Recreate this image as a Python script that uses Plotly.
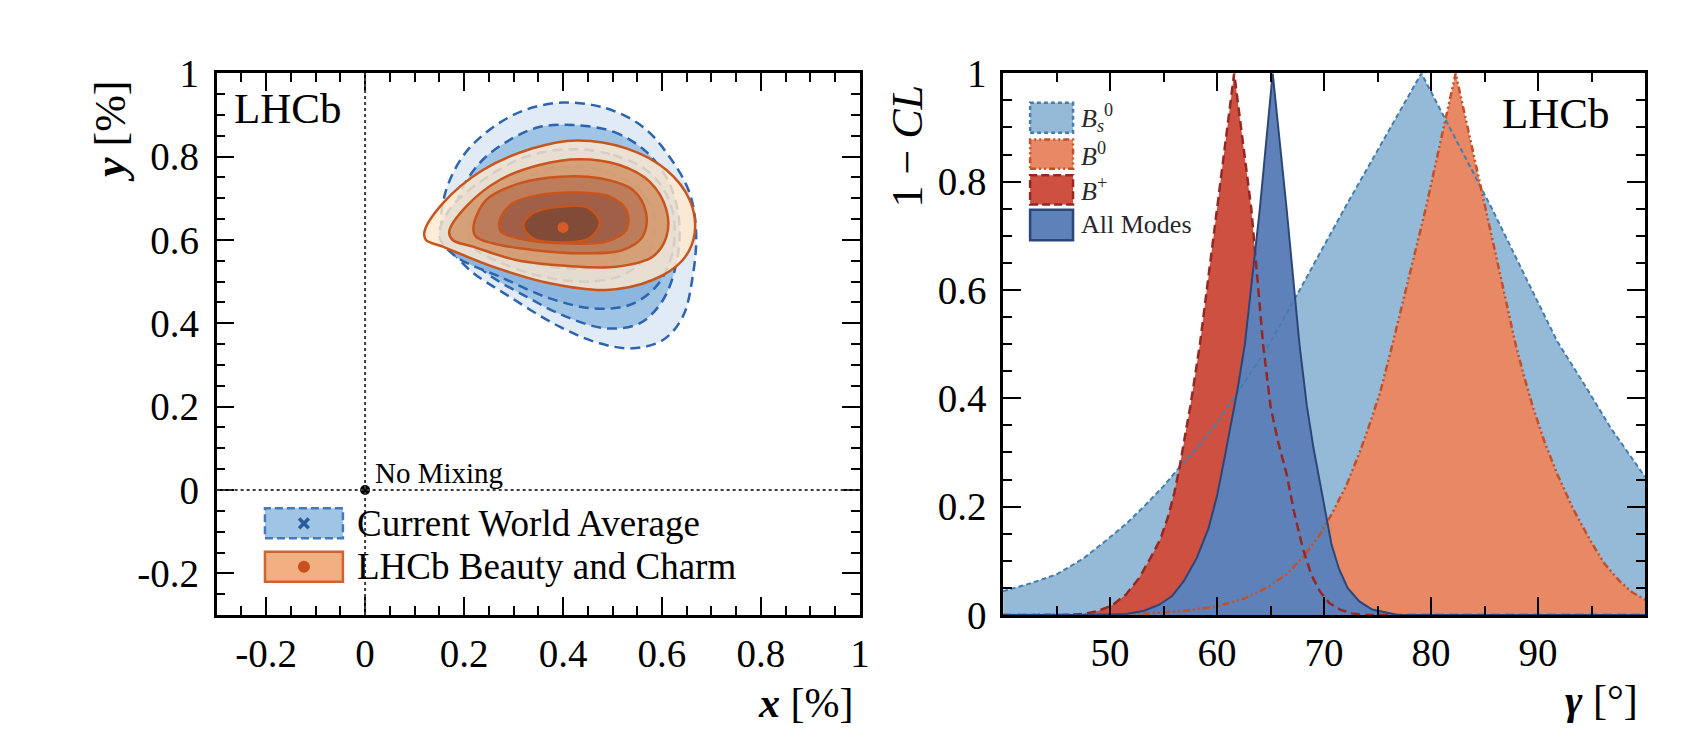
import plotly.graph_objects as go
from plotly.subplots import make_subplots

# ---- left panel: charm mixing contours (x, y in %) ----
wa1_x = [0.400, 0.487, 0.561, 0.615, 0.656, 0.669, 0.662, 0.642, 0.602, 0.541, 0.474, 0.393, 0.292, 0.204, 0.157, 0.160, 0.197, 0.251, 0.319]
wa1_y = [0.930, 0.916, 0.872, 0.800, 0.712, 0.616, 0.512, 0.416, 0.360, 0.340, 0.352, 0.392, 0.464, 0.536, 0.616, 0.704, 0.800, 0.864, 0.910]
wa2_x = [0.420, 0.501, 0.568, 0.615, 0.635, 0.629, 0.602, 0.555, 0.487, 0.406, 0.326, 0.238, 0.184, 0.187, 0.231, 0.292, 0.352]
wa2_y = [0.876, 0.860, 0.812, 0.736, 0.640, 0.544, 0.456, 0.400, 0.388, 0.416, 0.464, 0.528, 0.608, 0.696, 0.784, 0.840, 0.871]
wa3_x = [0.420, 0.501, 0.568, 0.608, 0.625, 0.619, 0.588, 0.534, 0.460, 0.373, 0.272, 0.184, 0.150, 0.170, 0.238, 0.326]
wa3_y = [0.818, 0.804, 0.768, 0.712, 0.640, 0.560, 0.488, 0.444, 0.436, 0.460, 0.512, 0.560, 0.608, 0.672, 0.744, 0.800]
wa4_x = [0.413, 0.487, 0.548, 0.581, 0.585, 0.568, 0.521, 0.447, 0.359, 0.278, 0.218, 0.211, 0.245, 0.312, 0.366]
wa4_y = [0.776, 0.764, 0.728, 0.672, 0.616, 0.560, 0.516, 0.500, 0.512, 0.544, 0.584, 0.632, 0.688, 0.744, 0.768]
wa5_x = [0.413, 0.480, 0.528, 0.541, 0.528, 0.480, 0.406, 0.332, 0.278, 0.272, 0.298, 0.352]
wa5_y = [0.728, 0.716, 0.672, 0.632, 0.576, 0.540, 0.532, 0.548, 0.584, 0.632, 0.688, 0.720]

lb1_x = [0.120, 0.157, 0.238, 0.339, 0.427, 0.528, 0.609, 0.656, 0.666, 0.642, 0.581, 0.487, 0.373, 0.258, 0.157, 0.123]
lb1_y = [0.620, 0.688, 0.768, 0.820, 0.839, 0.820, 0.768, 0.696, 0.616, 0.552, 0.504, 0.480, 0.496, 0.536, 0.584, 0.600]
lb2_x = [0.170, 0.204, 0.272, 0.352, 0.433, 0.514, 0.575, 0.609, 0.609, 0.581, 0.507, 0.406, 0.305, 0.218, 0.177]
lb2_y = [0.620, 0.680, 0.744, 0.780, 0.794, 0.780, 0.740, 0.672, 0.608, 0.560, 0.536, 0.538, 0.552, 0.584, 0.600]
lb3_x = [0.219, 0.245, 0.312, 0.393, 0.474, 0.541, 0.568, 0.561, 0.521, 0.440, 0.339, 0.258, 0.224]
lb3_y = [0.632, 0.696, 0.736, 0.752, 0.748, 0.720, 0.664, 0.608, 0.576, 0.568, 0.576, 0.592, 0.608]
lb4_x = [0.272, 0.298, 0.352, 0.427, 0.494, 0.528, 0.528, 0.487, 0.406, 0.326, 0.275]
lb4_y = [0.648, 0.688, 0.708, 0.714, 0.704, 0.672, 0.624, 0.596, 0.592, 0.600, 0.620]
lb5_x = [0.320, 0.339, 0.393, 0.453, 0.474, 0.453, 0.393, 0.339]
lb5_y = [0.634, 0.664, 0.680, 0.676, 0.640, 0.604, 0.594, 0.604]

lhcb_best = (0.40, 0.63)
no_mixing = (0.0, 0.0)
xy_ticks = [-0.2, 0, 0.2, 0.4, 0.6, 0.8, 1]
xy_labels = ["-0.2", "0", "0.2", "0.4", "0.6", "0.8", "1"]
g_ticks = [50, 60, 70, 80, 90]

# ---- right panel: 1-CL scans in gamma ----
bs_g = [40, 42.5, 45, 47.4, 49.6, 51.6, 53.4, 55, 56.5, 58, 60, 61.9, 64.6, 68, 71.9, 75.5, 79.1,
        82, 85.7, 88.8, 91.8, 94.5, 96.8, 100]
bs_cl = [0.044, 0.058, 0.075, 0.103, 0.137, 0.17, 0.205, 0.238, 0.273, 0.305, 0.355, 0.41, 0.49, 0.61, 0.75, 0.875, 1.0,
         0.89, 0.75, 0.625, 0.505, 0.42, 0.345, 0.255]
b0_g = [40, 49.6, 52, 54.6, 57.5, 60.0, 62.5, 64.6, 66.5, 68.0, 69.5, 70.7, 72.1, 73.4, 74.4, 75.3, 76.4, 79.5, 82.3,
        85.1, 87.9, 88.7, 89.5, 90.6, 91.8, 93.3, 94.9, 96.2, 97.6, 98.8, 100]
b0_cl = [0.0, 0.0, 0.001, 0.004, 0.009, 0.016, 0.03, 0.05, 0.075, 0.106, 0.145, 0.186, 0.24, 0.304, 0.36, 0.415, 0.50, 0.75, 1.0,
         0.75, 0.50, 0.44, 0.385, 0.32, 0.26, 0.195, 0.137, 0.095, 0.063, 0.042, 0.028]
bp_g = [40, 45.8, 47.5, 48.8, 50.2, 51.5, 52.7, 53.8, 54.7, 55.4, 56.0, 56.5, 57.0, 57.5, 58.4, 60.0, 61.6,
        63.2, 64.3, 65.0, 65.7, 66.5, 67.2, 68.0, 68.8, 69.6, 70.5, 71.5, 72.6, 73.8, 100]
bp_cl = [0.0, 0.0, 0.002, 0.007, 0.018, 0.038, 0.068, 0.106, 0.14, 0.18, 0.225, 0.273, 0.33, 0.385, 0.50, 0.75, 1.0,
         0.75, 0.50, 0.385, 0.32, 0.26, 0.19, 0.124, 0.075, 0.044, 0.022, 0.01, 0.003, 0.0, 0.0]
all_g = [40, 48, 51.5, 53.2, 54.6, 55.8, 56.9, 58.1, 59.2, 60.0, 60.7, 61.3, 61.9, 62.6, 64.0, 65.2,
         66.5, 67.7, 68.4, 69.0, 69.6, 70.2, 70.7, 71.4, 72.2, 73.3, 74.5, 76.9, 100]
all_cl = [0.0, 0.0, 0.002, 0.008, 0.019, 0.035, 0.063, 0.105, 0.16, 0.22, 0.29, 0.35, 0.415, 0.50, 0.75, 1.0,
          0.75, 0.50, 0.385, 0.31, 0.248, 0.185, 0.13, 0.085, 0.05, 0.025, 0.01, 0.0, 0.0]

FONT = "Liberation Serif"

fig = make_subplots(rows=1, cols=2)

# world average (blue, dashed)
blue_line = "rgb(45,100,175)"
wa = [(wa1_x, wa1_y, "rgb(224,235,246)"), (wa2_x, wa2_y, "rgb(160,196,228)"),
      (wa3_x, wa3_y, "rgb(140,182,222)"), (wa4_x, wa4_y, "rgb(122,168,214)"),
      (wa5_x, wa5_y, "rgb(104,154,205)")]
for cx, cy, col in wa:
    fig.add_trace(go.Scatter(x=cx + cx[:1], y=cy + cy[:1], mode="lines", fill="toself",
                             fillcolor=col, line=dict(color=blue_line, width=2.5, dash="10px,6px", shape="spline", smoothing=1)),
                  row=1, col=1)

# LHCb beauty and charm (orange, solid)
orange_line = "rgb(200,85,30)"
lb = [(lb1_x, lb1_y, "rgba(255,232,205,0.8)"), (lb2_x, lb2_y, "rgba(209,144,98,0.8)"),
      (lb3_x, lb3_y, "rgba(184,116,82,0.8)"), (lb4_x, lb4_y, "rgba(152,87,65,0.8)"),
      (lb5_x, lb5_y, "rgba(122,70,51,0.8)")]
for cx, cy, col in lb:
    fig.add_trace(go.Scatter(x=cx + cx[:1], y=cy + cy[:1], mode="lines", fill="toself",
                             fillcolor=col, line=dict(color=orange_line, width=2.5, shape="spline", smoothing=1)),
                  row=1, col=1)

fig.add_trace(go.Scatter(x=[lhcb_best[0]], y=[lhcb_best[1]], mode="markers",
                         marker=dict(color="rgb(215,90,40)", size=11)), row=1, col=1)
fig.add_trace(go.Scatter(x=[no_mixing[0]], y=[no_mixing[1]], mode="markers",
                         marker=dict(color="black", size=10)), row=1, col=1)

# reference lines through no mixing
fig.add_shape(type="line", xref="x", yref="y domain", x0=0, x1=0, y0=0, y1=1,
              line=dict(color="rgb(60,60,60)", width=2, dash="dot"))
fig.add_shape(type="line", xref="x domain", yref="y", x0=0, x1=1, y0=0, y1=0,
              line=dict(color="rgb(60,60,60)", width=2, dash="dot"))

# right panel fills, then all edges on top
scans = [
    (bs_g, bs_cl, "rgb(148,186,216)", "rgb(70,125,175)", 2, "5px,3px"),
    (b0_g, b0_cl, "rgb(232,136,100)", "rgb(195,80,40)", 2.5, "7px,3px,2px,3px,2px,3px"),
    (bp_g, bp_cl, "rgb(205,80,65)", "rgb(150,40,35)", 2.5, "9px,5px"),
    (all_g, all_cl, "rgb(94,129,185)", "rgb(45,70,120)", 2, "solid"),
]
for g, cl, fc, lc, lw, ds in scans:
    fig.add_trace(go.Scatter(x=g, y=cl, mode="lines", fill="tozeroy", fillcolor=fc,
                             line=dict(width=0)), row=1, col=2)
for g, cl, fc, lc, lw, ds in scans:
    fig.add_trace(go.Scatter(x=g, y=cl, mode="lines", line=dict(color=lc, width=lw, dash=ds)),
                  row=1, col=2)

axis_common = dict(showline=True, linewidth=2.5, linecolor="black", mirror="allticks",
                   ticks="inside", ticklen=18, tickwidth=2, tickcolor="black",
                   showgrid=False, zeroline=False, automargin=False,
                   tickfont=dict(family=FONT, size=39, color="black"))
minor_common = dict(ticks="inside", ticklen=9, tickwidth=2, tick0=0, tickcolor="black")

# page body has an 8px margin, so the figure is 8px smaller and domains are offset
fig.update_xaxes(**axis_common, range=[-0.3, 1], tickmode="array", tickvals=xy_ticks, ticktext=xy_labels,
                 minor=dict(dtick=0.05, **minor_common),
                 ticklabelstandoff=2, domain=[0.1236, 0.5047], row=1, col=1)
fig.update_yaxes(**axis_common, range=[-0.3, 1], tickmode="array", tickvals=xy_ticks, ticktext=xy_labels,
                 minor=dict(dtick=0.05, **minor_common),
                 ticklabelstandoff=7, domain=[0.1775, 0.9115], row=1, col=1)
fig.update_xaxes(**axis_common, range=[40, 100], tickmode="array", tickvals=g_ticks,
                 minor=dict(dtick=5, **minor_common),
                 ticklabelstandoff=1, domain=[0.5895, 0.9698], row=1, col=2)
fig.update_yaxes(**axis_common, range=[0, 1], tickmode="linear", tick0=0, dtick=0.2,
                 minor=dict(dtick=0.05, **minor_common),
                 ticklabelstandoff=6, domain=[0.1775, 0.9115], row=1, col=2)

# left legend (hand drawn boxes)
fig.add_shape(type="rect", xref="x domain", yref="y domain", x0=0.0751, x1=0.1963, y0=0.1416, y1=0.1970,
              fillcolor="rgb(160,196,228)", line=dict(color="rgb(70,120,190)", width=2.5, dash="8px,4px"))
fig.add_shape(type="rect", xref="x domain", yref="y domain", x0=0.0751, x1=0.1963, y0=0.0615, y1=0.1169,
              fillcolor="rgb(242,176,130)", line=dict(color="rgb(205,100,50)", width=2.5))
for sx in (1, -1):
    fig.add_shape(type="line", xref="x domain", yref="y domain",
                  x0=0.1357 - 0.0075, x1=0.1357 + 0.0075, y0=0.1693 - 0.009 * sx, y1=0.1693 + 0.009 * sx,
                  line=dict(color="rgb(40,90,160)", width=3.5))
fig.add_shape(type="circle", xref="x domain", yref="y domain", x0=0.1357 - 0.0093, x1=0.1357 + 0.0093,
              y0=0.0892 - 0.011, y1=0.0892 + 0.011, fillcolor="rgb(200,80,30)", line=dict(width=0))

# right legend boxes
leg_boxes = [
    (0.8903, 0.9455, "rgb(148,186,216)", "rgb(70,125,175)", "4px,3px"),
    (0.8240, 0.8780, "rgb(232,136,100)", "rgb(195,80,40)", "6px,3px,2px,3px,2px,3px"),
    (0.7580, 0.8120, "rgb(205,80,65)", "rgb(150,40,35)", "8px,4px"),
    (0.6920, 0.7480, "rgb(94,129,185)", "rgb(45,70,120)", "solid"),
]
for y0, y1, fc, lc, ds in leg_boxes:
    fig.add_shape(type="rect", xref="x2 domain", yref="y2 domain", x0=0.0421, x1=0.1090, y0=y0, y1=y1,
                  fillcolor=fc, line=dict(color=lc, width=2.5, dash=ds))

leg_names = ["<i>B</i><sub><i>s</i></sub><sup>0</sup>", "<i>B</i><sup>0</sup>", "<i>B</i><sup>+</sup>", "All Modes"]
for (y0, y1, fc, lc, ds), name in zip(leg_boxes, leg_names):
    fig.add_annotation(xref="x2 domain", yref="y2 domain", x=0.1184, y=(y0 + y1) / 2, text=name,
                       showarrow=False, xanchor="left", yanchor="middle",
                       font=dict(family=FONT, size=26, color="rgb(40,40,40)"))

txt = dict(family=FONT, color="black")
annos = [
    dict(xref="x domain", yref="y domain", x=0.215, y=0.1693, text="Current World Average",
         xanchor="left", yanchor="middle", font=dict(size=37, **txt)),
    dict(xref="x domain", yref="y domain", x=0.215, y=0.0892, text="LHCb Beauty and Charm",
         xanchor="left", yanchor="middle", font=dict(size=37, **txt)),
    dict(xref="x domain", yref="y domain", x=0.243, y=0.262, text="No Mixing",
         xanchor="left", yanchor="middle", font=dict(size=29, **txt)),
    dict(xref="x domain", yref="y domain", x=0.024, y=0.935, text="LHCb",
         xanchor="left", yanchor="middle", font=dict(size=43, **txt)),
    dict(xref="x2 domain", yref="y2 domain", x=0.949, y=0.926, text="LHCb",
         xanchor="right", yanchor="middle", font=dict(size=43, **txt)),
    dict(xref="paper", yref="paper", x=0.5018, y=0.058, text="<b><i>x</i></b> [%]",
         xanchor="right", yanchor="middle", font=dict(size=42, **txt)),
    dict(xref="paper", yref="paper", x=0.0604, y=0.8333, text="<b><i>y</i></b> [%]", textangle=-90,
         xanchor="center", yanchor="middle", font=dict(size=44, **txt)),
    dict(xref="paper", yref="paper", x=0.9668, y=0.062, text="<b><i>γ</i></b> [°]",
         xanchor="right", yanchor="middle", font=dict(size=42, **txt)),
    dict(xref="paper", yref="paper", x=0.5326, y=0.8123, text="1 − <i>CL</i>", textangle=-90,
         xanchor="center", yanchor="middle", font=dict(size=44, **txt)),
]
for a in annos:
    fig.add_annotation(showarrow=False, **a)

fig.update_layout(width=1688, height=738, autosize=False, showlegend=False,
                  margin=dict(l=0, r=0, t=0, b=0, autoexpand=False),
                  plot_bgcolor="white", paper_bgcolor="white",
                  font=dict(family=FONT))

fig.write_html("out.html")
